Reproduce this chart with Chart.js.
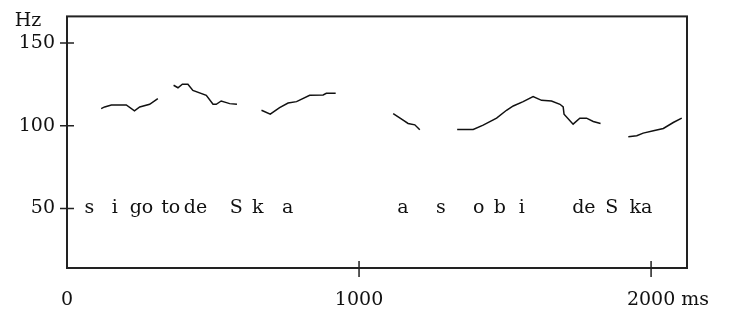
<!DOCTYPE html>
<html>
<head>
<meta charset="utf-8">
<script src="https://cdn.jsdelivr.net/npm/chart.js@4.4.1/dist/chart.umd.min.js"></script>
<style>
  html, body { margin: 0; padding: 0; background: #fff; }
  #wrap { width: 729px; height: 311px; }
</style>
</head>
<body>
<div id="wrap"><canvas id="pitch"></canvas></div>
<script>
// F0 contour, one pair of arrays per voiced stretch (time in ms, pitch in Hz)
const seg1Ms = [117, 129, 152, 203, 231, 249, 283, 311];
const seg1Hz = [110.3, 111.3, 112.5, 112.5, 108.9, 111.3, 112.9, 116.3];
const seg2Ms = [365, 380, 395, 414, 431, 477, 500, 511, 528, 546, 557, 582];
const seg2Hz = [124.4, 122.9, 125.0, 125.0, 121.3, 118.3, 112.9, 112.9, 114.9, 113.9, 113.3, 112.9];
const seg3Ms = [666, 696, 728, 757, 786, 831, 877, 888, 920];
const seg3Hz = [109.3, 106.9, 110.9, 113.7, 114.5, 118.3, 118.5, 119.5, 119.5];
const seg4Ms = [1117, 1151, 1168, 1191, 1208];
const seg4Hz = [107.3, 103.3, 101.3, 100.5, 97.5];
const seg5Ms = [1336, 1391, 1425, 1471, 1505, 1528, 1562, 1596, 1625, 1659, 1688, 1699, 1702, 1733, 1756, 1779, 1802, 1827];
const seg5Hz = [97.7, 97.7, 100.3, 104.5, 109.3, 111.9, 114.5, 117.5, 115.3, 114.9, 112.9, 111.3, 106.9, 100.9, 104.5, 104.5, 102.5, 101.3];
const seg6Ms = [1922, 1951, 1973, 2008, 2042, 2076, 2105];
const seg6Hz = [93.3, 93.9, 95.5, 96.9, 98.3, 101.9, 104.5];

const xTicks = [0, 1000, 2000];
const yTicks = [50, 100, 150];

// segment labels written under the contour
const syllables = ['s', 'i', 'go', 'to', 'de', 'S', 'k', 'a', 'a', 's', 'o', 'b', 'i', 'de', 'S', 'ka'];
const syllableMs = [77, 164, 255, 355, 440, 580, 653, 756, 1150, 1280, 1410, 1482, 1557, 1770, 1865, 1965];

const FONT_SIZE = 19;
const FONT = FONT_SIZE + 'px "DejaVu Serif"';
const INK = '#111';
const X_PAD = 14;

const segments = [
  [seg1Ms, seg1Hz], [seg2Ms, seg2Hz], [seg3Ms, seg3Hz],
  [seg4Ms, seg4Hz], [seg5Ms, seg5Hz], [seg6Ms, seg6Hz]
];

// box, crossing tick marks and the extra text
const frame = {
  id: 'frame',
  afterDraw(chart) {
    const { ctx, chartArea: a, scales: { x, y } } = chart;
    ctx.save();
    ctx.strokeStyle = '#222';
    ctx.lineWidth = 2;
    ctx.strokeRect(a.left, a.top, a.right - a.left, a.bottom - a.top);

    ctx.lineWidth = 1.5;
    ctx.beginPath();
    yTicks.forEach(v => {
      const py = y.getPixelForValue(v);
      ctx.moveTo(a.left - 7, py);
      ctx.lineTo(a.left + 7, py);
    });
    xTicks.filter(v => v > 0).forEach(v => {
      const px = x.getPixelForValue(v);
      ctx.moveTo(px, a.bottom - 7);
      ctx.lineTo(px, a.bottom + 9);
    });
    ctx.stroke();

    ctx.fillStyle = INK;
    ctx.font = FONT;
    ctx.textBaseline = 'middle';
    ctx.textAlign = 'center';
    const rowY = y.getPixelForValue(50);
    syllables.forEach((s, i) => ctx.fillText(s, x.getPixelForValue(syllableMs[i]), rowY));

    ctx.fillText('Hz', a.left - 39, a.top + 5);

    // unit after the last x tick label, on the same line
    const last = String(xTicks[xTicks.length - 1]);
    const lx = x.getPixelForValue(xTicks[xTicks.length - 1]) +
      ctx.measureText(last).width / 2 + ctx.measureText(' ').width;
    ctx.textAlign = 'left';
    ctx.textBaseline = 'middle';
    ctx.fillText('ms', lx, a.bottom + 7 + X_PAD + FONT_SIZE * 1.2 / 2);
    ctx.restore();
  }
};

const ctx = document.getElementById('pitch').getContext('2d');
const chart = new Chart(ctx, {
  type: 'line',
  data: {
    datasets: segments.map(([ms, hz]) => ({
      data: ms.map((t, i) => ({ x: t, y: hz[i] })),
      borderColor: INK,
      borderWidth: 1.5,
      pointRadius: 0,
      tension: 0,
      fill: false
    }))
  },
  options: {
    responsive: true,
    maintainAspectRatio: false,
    animation: false,
    events: [],
    layout: { padding: { top: 15, right: 42, left: 0, bottom: 0 } },
    plugins: { legend: { display: false }, tooltip: { enabled: false } },
    scales: {
      x: {
        type: 'linear',
        min: 0,
        max: 2123,
        afterBuildTicks: s => { s.ticks = xTicks.map(v => ({ value: v })); },
        afterFit: s => { s.height = 43; },
        border: { display: false },
        grid: { drawOnChartArea: false, color: 'transparent', tickLength: 7 },
        ticks: {
          color: INK, font: { family: 'DejaVu Serif', size: FONT_SIZE }, padding: X_PAD, maxRotation: 0,
          callback: v => String(v)
        }
      },
      y: {
        type: 'linear',
        min: 14,
        max: 166,
        afterBuildTicks: s => { s.ticks = yTicks.map(v => ({ value: v })); },
        afterFit: s => { s.width = 67; },
        border: { display: false },
        grid: { drawOnChartArea: false, color: 'transparent', tickLength: 7 },
        ticks: { color: INK, font: { family: 'DejaVu Serif', size: FONT_SIZE }, padding: 5, callback: v => String(v) }
      }
    }
  },
  plugins: [frame]
});
</script>
</body>
</html>
